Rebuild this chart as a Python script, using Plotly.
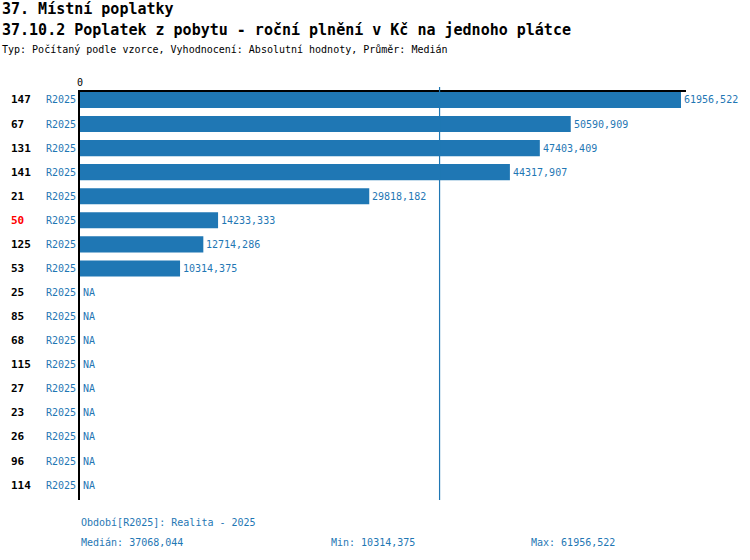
import plotly.graph_objects as go

# data
ids = ["147", "67", "131", "141", "21", "50", "125", "53",
       "25", "85", "68", "115", "27", "23", "26", "96", "114"]
period = "R2025"
values = [61956.522, 50590.909, 47403.409, 44317.907, 29818.182,
          14233.333, 12714.286, 10314.375,
          None, None, None, None, None, None, None, None, None]
highlight_id = "50"
median_val = 37068.044
min_val = 10314.375
max_val = 61956.522

title1 = "37. Místní poplatky"
title2 = "37.10.2 Poplatek z pobytu - roční plnění v Kč na jednoho plátce"
subtitle = "Typ: Počítaný podle vzorce, Vyhodnocení: Absolutní hodnoty, Průměr: Medián"
legend_txt = "Období[R2025]: Realita - 2025"

BLUE = "rgb(31,119,180)"
MONO = "DejaVu Sans Mono"

W, H = 750, 560
# plot area in pixels
L, R, T, B = 80, 686, 92, 500


def fmt(v):
    return "{:.3f}".format(v).replace(".", ",")


def px_x(p):
    return (p - L) / (R - L)


def px_y(p):
    return (B - p) / (B - T)


pos = list(range(len(ids)))

fig = go.Figure()
fig.add_trace(go.Bar(
    x=values, y=pos, orientation="h",
    marker=dict(color=BLUE, line=dict(width=0)),
    width=0.67, hoverinfo="x",
))


def label(x, y, text, size=10, color=BLUE, xref="paper", yref="paper", xanchor="left", xshift=0):
    return dict(x=x, y=y, xref=xref, yref=yref, text=text, showarrow=False,
                xanchor=xanchor, yanchor="middle", xshift=xshift,
                font=dict(family=MONO, size=size, color=color))


ann = []
for i, (rid, v) in enumerate(zip(ids, values)):
    ann.append(label(px_x(9), i, "<b>%s</b>" % rid, size=11, yref="y",
                     color="#ff0000" if rid == highlight_id else "black"))
    ann.append(label(px_x(78), i, period, yref="y", xanchor="right"))
    ann.append(label(v if v is not None else 0, i, fmt(v) if v is not None else "NA",
                     xref="x", yref="y", xshift=1))

# titles
ann.append(label(px_x(0), px_y(9), "<b>%s</b>" % title1, size=15, color="black"))
ann.append(label(px_x(0), px_y(30), "<b>%s</b>" % title2, size=15, color="black"))
ann.append(label(px_x(0), px_y(50), subtitle, color="black"))

# footer
ann.append(label(px_x(79), px_y(522), legend_txt))
ann.append(label(px_x(79), px_y(542), "Medián: " + fmt(median_val)))
ann.append(label(px_x(329), px_y(542), "Min: " + fmt(min_val)))
ann.append(label(px_x(529), px_y(542), "Max: " + fmt(max_val)))

x_max = max_val * (R - L) / 601.0

fig.update_layout(
    width=W, height=H,
    margin=dict(l=L, r=W - R, t=T, b=H - B, pad=0),
    paper_bgcolor="white", plot_bgcolor="white",
    showlegend=False,
    annotations=ann,
    shapes=[dict(type="line", xref="x", yref="paper", x0=median_val, x1=median_val,
                 y0=0, y1=px_y(87), layer="above", line=dict(color=BLUE, width=1.2))],
    xaxis=dict(range=[0, x_max], side="top", showgrid=False, zeroline=False,
               showline=True, linecolor="black", linewidth=1.5,
               tickvals=[0], ticktext=["0"], ticks="",
               tickfont=dict(family=MONO, size=10, color="black")),
    yaxis=dict(range=[len(ids) - 1 + 0.62, -0.33], showgrid=False, zeroline=False,
               showline=True, linecolor="black", linewidth=2,
               showticklabels=False, ticks=""),
)

# drop the default 8px body margin so the figure sits at the window corner
fig.write_html("out.html", config={"displayModeBar": False},
               post_script="document.body.style.margin='0';")
